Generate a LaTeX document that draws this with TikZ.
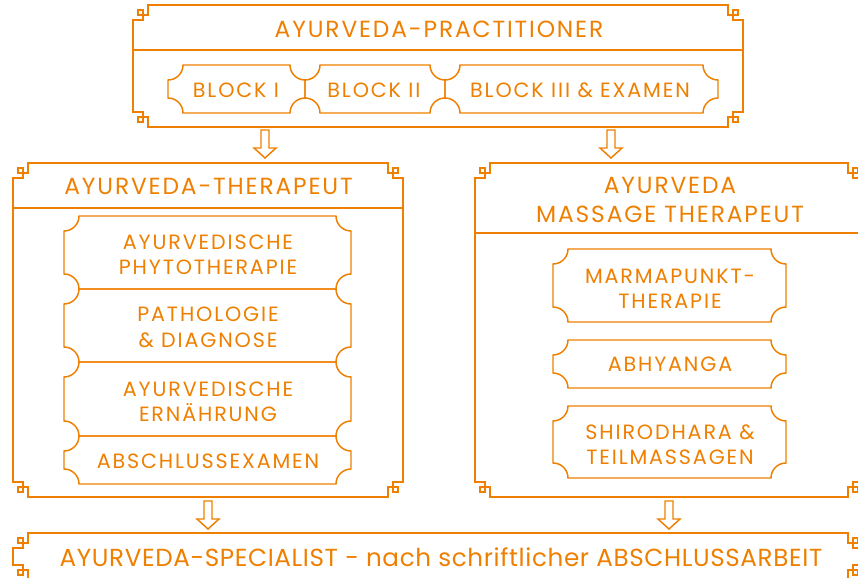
\documentclass[tikz,border=0pt]{standalone}
\usepackage{fontspec}
\setmainfont{Poppins}
\newfontfamily\titlefont{Poppins}[LetterSpace=8]
\newfontfamily\itemfont{Poppins}[LetterSpace=9]
\newfontfamily\footfont{Poppins}[LetterSpace=2.5]
\usetikzlibrary{calc}
\definecolor{ayurorange}{RGB}{238,127,0}

% frame with fret corners: left, top, right, bottom
\newcommand{\ornframe}[4]{%
\draw [frame] (#1+15,#2) -- (#3-15,#2) -- (#3-15,#2+10) -- (#3-5,#2+10) -- (#3-5,#2+5) -- (#3-10,#2+5) -- (#3-10,#2+15) -- (#3,#2+15) -- (#3,#4-15) -- (#3-10,#4-15) -- (#3-10,#4-5) -- (#3-5,#4-5) -- (#3-5,#4-10) -- (#3-15,#4-10) -- (#3-15,#4) -- (#1+15,#4) -- (#1+15,#4-10) -- (#1+5,#4-10) -- (#1+5,#4-5) -- (#1+10,#4-5) -- (#1+10,#4-15) -- (#1,#4-15) -- (#1,#2+15) -- (#1+10,#2+15) -- (#1+10,#2+5) -- (#1+5,#2+5) -- (#1+5,#2+10) -- (#1+15,#2+10) -- cycle ;}

% box with cut corners: left, top, right, bottom
\newcommand{\ticketbox}[4]{%
\draw [ticket] (#1+15,#2) -- (#3-15,#2) arc[start angle=180,end angle=90,radius=15] -- (#3,#4-15) arc[start angle=270,end angle=180,radius=15] -- (#1+15,#4) arc[start angle=0,end angle=-90,radius=15] -- (#1,#2+15) arc[start angle=90,end angle=0,radius=15] -- cycle ;}

\begin{document}
\begin{tikzpicture}[x=0.75pt,y=0.75pt,yscale=-1,xscale=1,
  frame/.style={draw=ayurorange,line width=2},
  ticket/.style={draw=ayurorange,line width=1.1},
  hollowarrow/.style={draw=ayurorange,line width=1.1,to path={($(\tikztostart)+(-4,0)$) -- ($(\tikztotarget)+(-4,-10)$) -- ($(\tikztotarget)+(-11,-10)$) -- (\tikztotarget) -- ($(\tikztotarget)+(11,-10)$) -- ($(\tikztotarget)+(4,-10)$) -- ($(\tikztostart)+(4,0)$) -- cycle}},
  title/.style={text=ayurorange,inner sep=0,align=center,font=\titlefont\fontsize{17.5}{21.75}\selectfont},
  item/.style={text=ayurorange,inner sep=0,align=center,font=\itemfont\fontsize{15.5}{19}\selectfont}]
\path[use as bounding box] (0,0) rectangle (858,578);
\clip (0,0) rectangle (858,578);

%Frame: practitioner
\ornframe{133}{5}{743}{127}
\draw [frame] (133,50) -- (743,50) ;
\node [title] (practitioner) at (439,29.5) {AYURVEDA-PRACTITIONER};
%Blocks
\ticketbox{168}{65}{305}{113}
\ticketbox{305}{65}{445}{113}
\ticketbox{445}{65}{718}{113}
\node [item] (blockI) at (236,90) {BLOCK I};
\node [item] (blockII) at (374,90) {BLOCK II};
\node [item] (blockIII) at (580,90) {BLOCK III \& EXAMEN};

%Frame: therapeut
\ornframe{13}{163}{403}{497}
\draw [frame] (13,208) -- (403,208) ;
\node [title] (therapeut) at (208.5,186.5) {AYURVEDA-THERAPEUT};
\ticketbox{64}{216}{351}{289}
\ticketbox{64}{289}{351}{362}
\ticketbox{64}{362}{351}{436}
\ticketbox{64}{436}{351}{484}
\node [item] (phyto) at (208,255) {AYURVEDISCHE\\PHYTOTHERAPIE};
\node [item] (patho) at (208,327.5) {PATHOLOGIE\\\& DIAGNOSE};
\node [item] (ernaehrung) at (208,401.5) {AYURVEDISCHE\\ERNÄHRUNG};
\node [item] (examen) at (208,461.5) {ABSCHLUSSEXAMEN};

%Frame: massage therapeut
\ornframe{475}{163}{863}{497}
\draw [frame] (475,233) -- (863,233) ;
\node [title] (massage) at (670,199.5) {AYURVEDA\\MASSAGE THERAPEUT};
\ticketbox{553}{249}{786}{322}
\ticketbox{553}{340}{786}{388}
\ticketbox{553}{406}{786}{478}
\node [item] (marma) at (670,288.5) {MARMAPUNKT-\\THERAPIE};
\node [item] (abhyanga) at (670,364) {ABHYANGA};
\node [item] (shirodhara) at (670,445) {SHIRODHARA \&\\TEILMASSAGEN};

%Frame: specialist
\ornframe{13}{533}{863}{580}
\node [title,font=\footfont\fontsize{18.5}{22}\selectfont] (specialist) at (441,557.5) {AYURVEDA-SPECIALIST - nach schriftlicher ABSCHLUSSARBEIT};

%Arrows
\coordinate (arrAs) at (265,130);
\coordinate (arrAe) at (265,158);
\coordinate (arrBs) at (611,130);
\coordinate (arrBe) at (611,158);
\coordinate (arrCs) at (208,501);
\coordinate (arrCe) at (208,529);
\coordinate (arrDs) at (669,501);
\coordinate (arrDe) at (669,529);
\draw [hollowarrow] (arrAs) to (arrAe);
\draw [hollowarrow] (arrBs) to (arrBe);
\draw [hollowarrow] (arrCs) to (arrCe);
\draw [hollowarrow] (arrDs) to (arrDe);

\end{tikzpicture}
\end{document}
